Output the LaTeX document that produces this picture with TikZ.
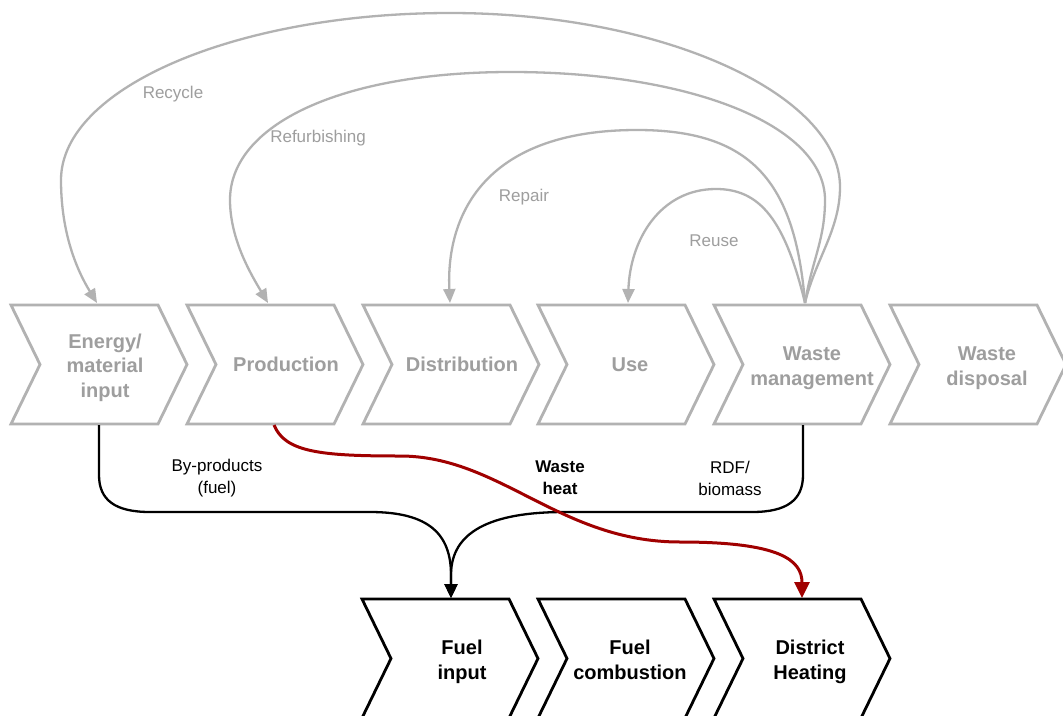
\documentclass[tikz,border=0pt]{standalone}
\usepackage{fontspec}
\setmainfont{Liberation Sans}
\usetikzlibrary{arrows.meta}
\definecolor{linegrey}{RGB}{178,178,178}
\definecolor{textgrey}{RGB}{158,158,158}
\definecolor{heatred}{RGB}{160,0,0}
\tikzset{
  chevgrey/.style={draw=linegrey, line width=2.8pt, line join=miter},
  chevblack/.style={draw=black, line width=2.8pt, line join=miter},
  stagegrey/.style={font=\fontsize{20}{24.5}\selectfont\bfseries, text=textgrey, align=center, inner sep=0pt},
  stageblack/.style={font=\fontsize{20}{24.5}\selectfont\bfseries, text=black, align=center, inner sep=0pt},
  loopback/.style={draw=linegrey, line width=2.3pt, -{Triangle[length=14pt,width=12pt]}},
  feed/.style={draw=black, line width=2.3pt, -{Triangle[length=14pt,width=13pt]}},
  heatflow/.style={draw=heatred, line width=3pt, -{Triangle[length=16pt,width=15pt]}},
  looplabel/.style={font=\fontsize{17}{22}\selectfont, text=textgrey, align=center, inner sep=0pt},
  flowlabel/.style={font=\fontsize{17}{22}\selectfont, text=black, align=center, inner sep=0pt}
}
% chevron outline: style, left x, top y
\newcommand\chevronshape[3]{%
  \draw[#1] (#2,#3) -- ++(147,0) -- ++(29,59.5) -- ++(-29,59.5) -- ++(-147,0) -- ++(29,-59.5) -- cycle;}
\begin{document}
\begin{tikzpicture}[x=1pt,y=-1pt]
\fill[white] (0,0) rectangle (1063,715);
\useasboundingbox (0,0) rectangle (1063,715);

% life-cycle stages
\chevronshape{chevgrey}{11}{305}
\chevronshape{chevgrey}{187}{305}
\chevronshape{chevgrey}{363}{305}
\chevronshape{chevgrey}{538}{305}
\chevronshape{chevgrey}{714}{305}
\chevronshape{chevgrey}{890}{305}
\node[stagegrey] (input)   at (105,368) {\strut Energy/\\material\\input\strut};
\node[stagegrey] (prod)    at (286,367) {\strut Production\strut};
\node[stagegrey] (distr)   at (462,367) {\strut Distribution\strut};
\node[stagegrey] (use)     at (630,367) {\strut Use\strut};
\node[stagegrey] (wastem)  at (812,368) {\strut Waste\\management\strut};
\node[stagegrey] (wasted)  at (987,368) {\strut Waste\\disposal\strut};

% energy stages
\chevronshape{chevblack}{362}{599}
\chevronshape{chevblack}{538}{599}
\chevronshape{chevblack}{714}{599}
\node[stageblack] (fuelin)   at (462,662) {\strut Fuel\\input\strut};
\node[stageblack] (fuelcomb) at (630,662) {\strut Fuel\\combustion\strut};
\node[stageblack] (dheat)    at (810,662) {\strut District\\Heating\strut};

% connection points on the chevron edges
\coordinate (input-top) at (97,303);
\coordinate (prod-top)  at (268,303);
\coordinate (distr-top) at (450,303);
\coordinate (use-top)   at (628,303);
\coordinate (wm-top)    at (805,303);
\coordinate (input-bot) at (99,425);
\coordinate (prod-bot)  at (274,425);
\coordinate (wm-bot)    at (803,425);
\coordinate (fuelin-top) at (451,598);
\coordinate (dheat-top)  at (802,598);

% loops back from waste management
\draw[loopback] (wm-top) .. controls (815,260) and (840,230) .. (840,187)
  .. controls (840,95) and (664,13) .. (450,13)
  .. controls (236,13) and (61,88) .. (61,180)
  .. controls (61,235) and (78,272) .. (input-top);
\draw[loopback] (wm-top) .. controls (812,260) and (825,240) .. (825,200)
  .. controls (825,125) and (690,72) .. (511,72)
  .. controls (340,72) and (230,125) .. (230,200)
  .. controls (230,240) and (252,276) .. (prod-top);
\draw[loopback] (wm-top) .. controls (795,180) and (750,130) .. (637,130)
  .. controls (480,130) and (446,220) .. (distr-top);
\draw[loopback] (wm-top) .. controls (785,220) and (760,189) .. (716,189)
  .. controls (660,189) and (630,240) .. (use-top);

\node[looplabel] (l-recycle) at (173,94)  {Recycle};
\node[looplabel] (l-refurb)  at (318,138) {Refurbishing};
\node[looplabel] (l-repair)  at (524,197) {Repair};
\node[looplabel] (l-reuse)   at (714,241) {Reuse};

% fuel flows
\draw[feed] (input-bot) -- (99,475) .. controls (99,500) and (115,512) .. (150,512)
  -- (370,512) .. controls (430,512) and (451,535) .. (451,575) -- (fuelin-top);
\draw[feed] (wm-bot) -- (803,475) .. controls (803,500) and (787,512) .. (752,512)
  -- (565,512) .. controls (490,512) and (451,532) .. (451,575) -- (fuelin-top);

% waste heat flow
\draw[heatflow] (prod-bot) .. controls (285,452) and (320,456) .. (400,456)
  .. controls (500,456) and (560,542) .. (680,542)
  .. controls (780,542) and (802,560) .. (dheat-top);

\node[flowlabel] (l-byprod) at (217,478) {By-products\\(fuel)};
\node[flowlabel, font=\fontsize{17}{22}\selectfont\bfseries] (l-heat) at (560,478) {Waste\\heat};
\node[flowlabel] (l-rdf) at (730,478) {RDF/\\biomass};
\end{tikzpicture}
\end{document}
